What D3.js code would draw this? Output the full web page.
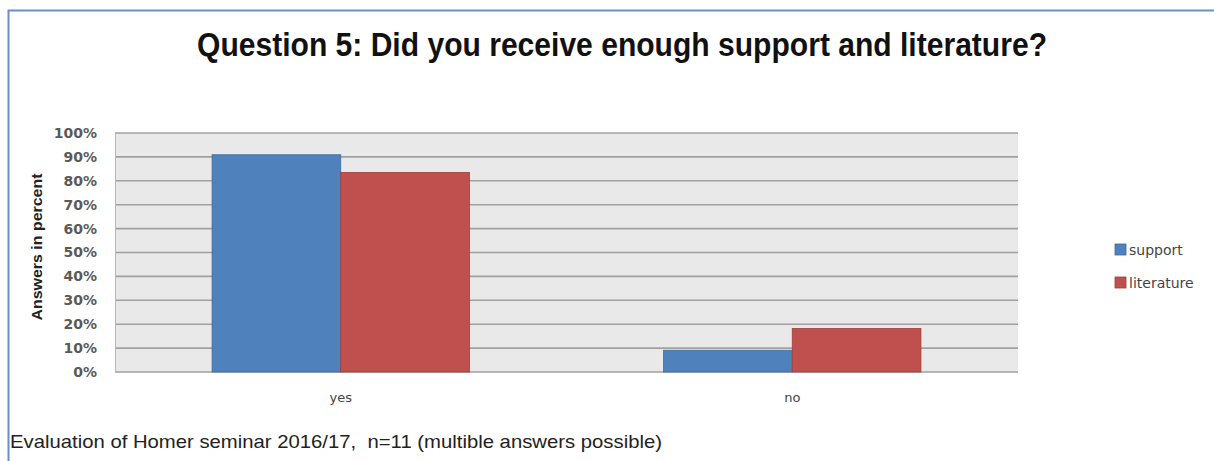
<!DOCTYPE html>
<html><head><meta charset="utf-8">
<script src="https://cdn.jsdelivr.net/npm/d3@7"></script>
<style>body{margin:0;background:#fff;}svg{display:block;}</style>
</head><body>
<script>
const categories = ["yes", "no"];
const seriesNames = ["support", "literature"];
const supportValues = [90.9, 9.1];
const literatureValues = [83.5, 18.2];
const yTicks = [0, 10, 20, 30, 40, 50, 60, 70, 80, 90, 100];
const colors = ["#4f81bd", "#c0504d"];
const strokeColors = ["#3f6a9e", "#9e3e3b"];

const W = 1214, H = 461;
const svg = d3.select("body").append("svg").attr("width", W).attr("height", H);

// outer frame
svg.append("rect").attr("x", 0).attr("y", 0).attr("width", W).attr("height", H).attr("fill", "#fff");
svg.append("path").attr("d", `M8.5,${H} L8.5,10.5 L${W},10.5`).attr("fill", "none").attr("stroke", "#6e8fc4").attr("stroke-width", 2);

const m = {left: 115, right: 1018, top: 133, bottom: 372};
const x0 = d3.scaleBand().domain(categories).range([m.left, m.right]).paddingInner(0.43).paddingOuter(0.215);
const x1 = d3.scaleBand().domain(seriesNames).range([0, x0.bandwidth()]);
const y = d3.scaleLinear().domain([0, 100]).range([m.bottom, m.top]);

// plot background
svg.append("rect").attr("x", m.left).attr("y", m.top).attr("width", m.right - m.left).attr("height", m.bottom - m.top).attr("fill", "#e9e9e9");

// gridlines
svg.append("g").selectAll("line").data(yTicks).join("line")
  .attr("x1", m.left).attr("x2", m.right)
  .attr("y1", d => y(d)).attr("y2", d => y(d))
  .attr("stroke", "#a0a0a0").attr("stroke-width", 1.6);
svg.append("line").attr("x1", m.left + 0.5).attr("x2", m.left + 0.5).attr("y1", m.top).attr("y2", m.bottom).attr("stroke", "#b8b8b8").attr("stroke-width", 1);

// y axis labels
const yAxis = d3.axisLeft(y).tickValues(yTicks).tickFormat(d => d + "%").tickSize(0).tickPadding(18);
const ga = svg.append("g").attr("transform", `translate(${m.left},0)`).call(yAxis);
ga.select(".domain").remove();
ga.selectAll("text").attr("font-family", "'DejaVu Sans', sans-serif").attr("font-size", 14).attr("font-weight", "bold").attr("fill", "#5a5a5a");

svg.append("text").attr("transform", `translate(42,247) rotate(-90)`).attr("text-anchor", "middle")
  .attr("textLength", 147).attr("lengthAdjust", "spacingAndGlyphs")
  .attr("font-family", "'Liberation Sans', sans-serif").attr("font-weight", "bold").attr("font-size", 15).attr("fill", "#222")
  .text("Answers in percent");

// bars
const data = categories.map((c, i) => ({cat: c, vals: [supportValues[i], literatureValues[i]]}));
const gb = svg.append("g");
data.forEach(d => {
  d.vals.forEach((v, j) => {
    gb.append("rect")
      .attr("x", x0(d.cat) + x1(seriesNames[j]))
      .attr("y", y(v))
      .attr("width", x1.bandwidth())
      .attr("height", y(0) - y(v))
      .attr("fill", colors[j])
      .attr("stroke", strokeColors[j]).attr("stroke-width", 0.8);
  });
});

// x axis labels
const xAxis = d3.axisBottom(x0).tickSize(0).tickPadding(21);
const gx = svg.append("g").attr("transform", `translate(0,${m.bottom})`).call(xAxis);
gx.select(".domain").remove();
gx.selectAll("text").attr("font-family", "'DejaVu Sans', sans-serif").attr("font-size", 13).attr("fill", "#444");

// legend
const lg = svg.append("g");
seriesNames.forEach((s, i) => {
  const ly = 250 + i * 33;
  lg.append("rect").attr("x", 1115).attr("y", ly - 6).attr("width", 11).attr("height", 11).attr("fill", colors[i]).attr("stroke", strokeColors[i]).attr("stroke-width", 0.8);
  lg.append("text").attr("x", 1129).attr("y", ly + 5).attr("font-family", "'DejaVu Sans', sans-serif").attr("font-size", 14).attr("fill", "#444").text(s);
});

// title
svg.append("text").attr("x", 197).attr("y", 56).attr("textLength", 850).attr("lengthAdjust", "spacingAndGlyphs")
  .attr("font-family", "'Liberation Sans Narrow', 'Liberation Sans', sans-serif").attr("font-weight", "bold").attr("font-size", 34).attr("fill", "#111")
  .text("Question 5: Did you receive enough support and literature?");

// footer
svg.append("text").attr("x", 10).attr("y", 448).attr("textLength", 652).attr("lengthAdjust", "spacingAndGlyphs")
  .attr("font-family", "'Liberation Sans Narrow', 'Liberation Sans', sans-serif").attr("font-size", 19).attr("fill", "#222")
  .attr("xml:space", "preserve")
  .text("Evaluation of Homer seminar 2016/17,  n=11 (multible answers possible)");
</script>
</body></html>
